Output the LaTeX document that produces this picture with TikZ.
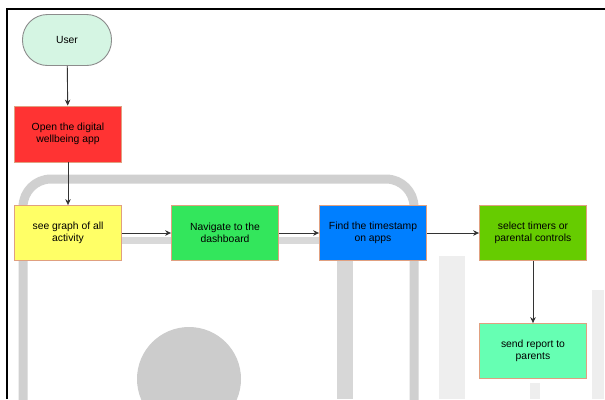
\documentclass[tikz,border=0pt]{standalone}
\usepackage{fontspec}
\setmainfont{Liberation Sans}
\usetikzlibrary{arrows.meta}
\definecolor{usermint}{HTML}{D5F5E3}
\definecolor{openred}{HTML}{FF3333}
\definecolor{graphyellow}{HTML}{FFFF66}
\definecolor{navgreen}{HTML}{33E65C}
\definecolor{stampblue}{HTML}{007FFF}
\definecolor{timerlime}{HTML}{66CC00}
\definecolor{reportteal}{HTML}{66FFB3}
\definecolor{boxedge}{HTML}{E0A080}
\definecolor{markgrey}{HTML}{D0D0D0}
\definecolor{markpale}{HTML}{EEEEEE}
\tikzset{
  stepnode/.style={draw=boxedge, line width=0.8bp, minimum width=107bp, minimum height=55bp,
    align=center, font=\fontsize{10.4}{12.5}\selectfont, inner sep=2bp},
  flow/.style={line width=0.9bp, draw=black!80, -{Stealth[length=6bp,width=5.5bp]}}
}
\begin{document}
\begin{tikzpicture}[x=1bp, y=-1bp]
		%%%%% START %%%%%
		\useasboundingbox (0, 0) rectangle (605, 399);
		\fill[white] (0, 0) rectangle (605, 399);
		
		% faded phone picture behind the chart
		\draw[line width=9bp, color=markgrey, rounded corners=28bp] (23, 460) -- (23, 179) -- (414, 179) -- (414, 460);
		\draw[line width=7bp, color=markgrey!80] (122, 240) -- (320, 240);
		\draw[line width=16bp, color=markgrey!85] (345, 255) -- (345, 399);
		\draw[line width=26bp, color=markpale] (452, 256) -- (452, 399);
		\draw[line width=12bp, color=markpale] (598, 290) -- (598, 399);
		\draw[line width=10bp, color=markpale] (535, 383) -- (535, 399);
		\fill[color=black!20] (189, 379) circle (52);
		
		% frame
		\draw[line width=1.6bp, color=black] (7, 399) -- (7, 9) -- (605, 9);
		
		\node[draw=black!45, fill=usermint, line width=0.9bp, rounded corners=25bp,
		  minimum width=89bp, minimum height=51bp, font=\fontsize{10.4}{12.5}\selectfont] (user) at (67, 40) {User};
		\node[stepnode, fill=openred, minimum height=56bp] (open) at (68, 134) {Open the digital\\wellbeing app};
		\node[stepnode, fill=graphyellow] (graph) at (68, 233) {see graph of all\\activity};
		\node[stepnode, fill=navgreen] (dashboard) at (225, 233) {Navigate to the\\dashboard};
		\node[stepnode, fill=stampblue] (timestamp) at (373, 233) {Find the timestamp\\on apps};
		\node[stepnode, fill=timerlime] (timers) at (533, 233) {select timers or\\parental controls};
		\node[stepnode, fill=reportteal] (report) at (533, 351) {send report to\\parents};
		
		\draw[flow] (user) -- (open);
		\draw[flow] (open) -- (graph);
		\draw[flow] (graph) -- (dashboard);
		\draw[flow] (dashboard) -- (timestamp);
		\draw[flow] (timestamp) -- (timers);
		\draw[flow] (timers) -- (report);
		
		%%%%% END %%%%%
	\end{tikzpicture}
\end{document}
